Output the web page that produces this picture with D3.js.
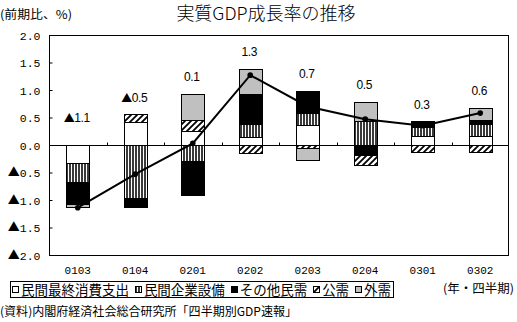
<!DOCTYPE html>
<html><head><meta charset="utf-8">
<script src="https://cdn.jsdelivr.net/npm/d3@7"></script>
<style>
html,body{margin:0;padding:0;background:#fff;}
svg{display:block;}
</style></head>
<body>
<svg id="chart" width="517" height="322"></svg>
<script>
// ---- data ----
const categories = ['0103','0104','0201','0202','0203','0204','0301','0302'];
const consumption  = [-0.33, 0.41, 0.25, 0.14, 0.36, 0.00, 0.16, 0.16];
const investment   = [-0.35,-0.96,-0.29, 0.24, 0.22, 0.44, 0.17, 0.22];
const otherPrivate = [-0.39,-0.16,-0.61, 0.54, 0.40,-0.18, 0.10, 0.08];
const publicDemand = [ 0.00, 0.15, 0.21,-0.14,-0.06,-0.19,-0.13,-0.12];
const foreignDemand= [-0.06, 0.00, 0.47, 0.46,-0.21, 0.35, 0.00, 0.22];
const gdpGrowth    = [-1.14,-0.53, 0.03, 1.27, 0.70, 0.47, 0.35, 0.58];
const growthLabels = ['▲1.1','▲0.5','0.1','1.3','0.7','0.5','0.3','0.6'];
const seriesNames  = ['民間最終消費支出','民間企業設備','その他民需','公需','外需'];
const yTicks = [2.0,1.5,1.0,0.5,0.0,-0.5,-1.0,-1.5,-2.0];

const seriesKeys = ['consumption','investment','otherPrivate','publicDemand','foreignDemand'];
const seriesArrays = [consumption, investment, otherPrivate, publicDemand, foreignDemand];
const table = categories.map((c,i)=>{
  const o = {cat:c};
  seriesKeys.forEach((k,j)=>o[k]=seriesArrays[j][i]);
  return o;
});

const svg = d3.select('#chart');
const L=49, R=509, T=35, B=255;
const x = d3.scaleBand().domain(categories).range([L,R]).paddingInner(0.6).paddingOuter(0.3);
const y = d3.scaleLinear().domain([-2,2]).range([B,T]);

// patterns
const defs = svg.append('defs');
const pv = defs.append('pattern').attr('id','vstripe').attr('patternUnits','userSpaceOnUse')
  .attr('width',3).attr('height',3);
pv.append('rect').attr('width',3).attr('height',3).attr('fill','#fff');
pv.append('rect').attr('width',2).attr('height',3).attr('fill','#3a3a3a');
const ph = defs.append('pattern').attr('id','hatch').attr('patternUnits','userSpaceOnUse')
  .attr('width',6).attr('height',6);
ph.append('rect').attr('width',6).attr('height',6).attr('fill','#fff');
ph.append('path').attr('d','M-1,7 L7,-1 M-4,4 L4,-4 M2,10 L10,2').attr('stroke','#000').attr('stroke-width',1.8);

const fills = {consumption:'#fff', investment:'url(#vstripe)', otherPrivate:'#000',
               publicDemand:'url(#hatch)', foreignDemand:'#c0c0c0'};

// plot border
svg.append('rect').attr('x',L+0.5).attr('y',T+0.5).attr('width',R-L-1).attr('height',B-T)
  .attr('fill','none').attr('stroke','#000').attr('stroke-width',1);

// y axis
const yAxis = d3.axisLeft(y).tickValues(yTicks).tickSizeInner(-3).tickSizeOuter(0).tickPadding(9)
  .tickFormat(d=>'');
const gy = svg.append('g').attr('transform',`translate(${L+0.5},0)`).call(yAxis);
gy.select('.domain').remove();
gy.selectAll('.tick line').attr('stroke','#000');
gy.selectAll('.tick').each(function(d){
  const t = d3.select(this).select('text')
    .attr('font-family','"Liberation Mono","DejaVu Sans Mono",monospace')
    .attr('font-size','11.5px').attr('fill','#000').attr('dy','0.36em');
  if(d<0){
    t.append('tspan').attr('font-family','"Noto Sans CJK JP",sans-serif').attr('font-size','12px').text('▲');
    t.append('tspan').text(Math.abs(d).toFixed(1));
  } else {
    t.text(d.toFixed(1));
  }
});

// stacked bars
const stack = d3.stack().keys(seriesKeys).offset(d3.stackOffsetDiverging);
const stacked = stack(table);
const gBars = svg.append('g');
stacked.forEach(layer=>{
  gBars.append('g').selectAll('rect').data(layer.filter(d=>Math.abs(d[1]-d[0])>0.001)).join('rect')
    .attr('x',d=>Math.round(x(d.data.cat))+0.5)
    .attr('width',Math.round(x.bandwidth()))
    .attr('y',d=>Math.round(y(Math.max(d[0],d[1])))+0.5)
    .attr('height',d=>Math.round(y(Math.min(d[0],d[1])))-Math.round(y(Math.max(d[0],d[1]))))
    .attr('fill',fills[layer.key]).attr('stroke','#000').attr('stroke-width',1);
});

// zero line with category ticks
const yz = Math.round(y(0))+0.5;
svg.append('line').attr('x1',L).attr('x2',R).attr('y1',yz).attr('y2',yz).attr('stroke','#000');
const xb = d3.scaleLinear().domain([0,categories.length]).range([L,R]);
svg.append('g').selectAll('line').data(d3.range(1,categories.length)).join('line')
  .attr('x1',d=>Math.round(xb(d))+0.5).attr('x2',d=>Math.round(xb(d))+0.5)
  .attr('y1',yz).attr('y2',yz-3).attr('stroke','#000');

// GDP line
const cx = (c)=>x(c)+x.bandwidth()/2;
const line = d3.line().x((d,i)=>cx(categories[i])).y(d=>y(d));
svg.append('path').datum(gdpGrowth).attr('d',line).attr('fill','none')
  .attr('stroke','#000').attr('stroke-width',2);
svg.append('g').selectAll('circle').data(gdpGrowth).join('circle')
  .attr('cx',(d,i)=>cx(categories[i])).attr('cy',d=>y(d)).attr('r',2.8).attr('fill','#000');

// growth labels
const posTop = categories.map((c,i)=>d3.sum(seriesArrays.map(a=>Math.max(0,a[i]))));
svg.append('g').selectAll('text').data(growthLabels).join('text')
  .attr('x',(d,i)=>cx(categories[i])-1)
  .attr('y',(d,i)=>Math.min(y(posTop[i])-17, y(0.5)))
  .attr('dy','0.36em').attr('text-anchor','middle')
  .attr('font-family','"Liberation Sans",Arial,sans-serif').attr('font-size','12px')
  .attr('letter-spacing','-0.4px').attr('fill','#000')
  .each(function(d){
    const t=d3.select(this);
    if(d.startsWith('▲')){
      t.append('tspan').attr('font-family','"Noto Sans CJK JP",sans-serif').attr('font-size','11px').text('▲');
      t.append('tspan').text(d.slice(1));
    } else t.text(d);
  });

// x axis labels
const xAxis = d3.axisBottom(x).tickSize(0).tickPadding(11);
const gx = svg.append('g').attr('transform',`translate(0,${B})`).call(xAxis);
gx.select('.domain').remove();
gx.selectAll('text').attr('font-family','"Liberation Mono","DejaVu Sans Mono",monospace')
  .attr('font-size','11px').attr('fill','#000');

// title
svg.append('text').attr('x',266).attr('y',20).attr('text-anchor','middle')
  .attr('font-family','"Noto Sans CJK JP",sans-serif').attr('font-size','18px').attr('font-weight',300)
  .attr('fill','#000').text('実質GDP成長率の推移');
svg.append('text').attr('x',0).attr('y',19).attr('textLength',72).attr('lengthAdjust','spacingAndGlyphs')
  .attr('font-family','"Noto Sans CJK JP",sans-serif').attr('font-size','12px')
  .attr('fill','#000').text('(前期比、%)');

// legend
const lg = svg.append('g');
const legFills = [fills.consumption, fills.investment, fills.otherPrivate, fills.publicDemand, fills.foreignDemand];
lg.append('rect').attr('x',10.5).attr('y',281.5).attr('width',383).attr('height',16)
  .attr('fill','#fff').attr('stroke','#000');
const items = lg.selectAll('g.item').data(seriesNames).join('g').attr('class','item');
items.append('text').attr('y',294.5).attr('font-family','"Noto Sans CJK JP",sans-serif')
  .attr('font-size','13.5px').attr('fill','#000').text(d=>d);
const widths = [];
items.select('text').each(function(){widths.push(this.getComputedTextLength());});
const sq=7, sqGap=2;
const startX=12, endX=391;
const totalW = d3.sum(widths) + seriesNames.length*(sq+sqGap);
const gap = (endX-startX-totalW)/(seriesNames.length-1);
let cur = startX;
items.each(function(d,i){
  const g=d3.select(this);
  g.insert('rect','text').attr('x',Math.round(cur)+0.5).attr('y',286.5).attr('width',sq-1).attr('height',sq-1)
    .attr('fill',legFills[i]).attr('stroke','#000');
  g.select('text').attr('x',cur+sq+sqGap);
  cur += sq+sqGap+widths[i]+gap;
});

svg.append('text').attr('x',514).attr('y',293).attr('text-anchor','end')
  .attr('textLength',71).attr('lengthAdjust','spacingAndGlyphs')
  .attr('font-family','"Noto Sans CJK JP",sans-serif').attr('font-size','12px')
  .attr('fill','#000').text('(年・四半期)');

svg.append('text').attr('x',0).attr('y',316).attr('textLength',297).attr('lengthAdjust','spacingAndGlyphs')
  .attr('font-family','"Noto Sans CJK JP",sans-serif').attr('font-size','12px')
  .attr('fill','#000').text('(資料)内閣府経済社会総合研究所「四半期別GDP速報」');
</script>
</body></html>
